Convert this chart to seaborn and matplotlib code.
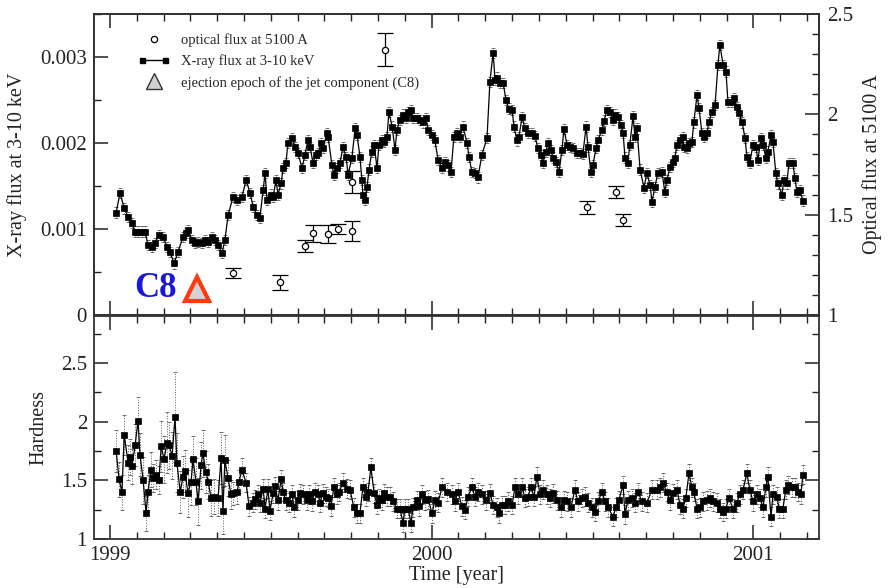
import numpy as np
import matplotlib
matplotlib.use("Agg")
import matplotlib.pyplot as plt
import seaborn as sns
from matplotlib.lines import Line2D
from matplotlib.legend_handler import HandlerLine2D
from matplotlib.ticker import MultipleLocator, FuncFormatter

# ---------------- data ----------------
# X-ray flux at 3-10 keV (units of 1e-3)
xray_time = [
    1999.019, 1999.031, 1999.044, 1999.056, 1999.068, 1999.078, 1999.087, 1999.099, 1999.109, 1999.118,
    1999.131, 1999.140, 1999.152, 1999.165, 1999.177, 1999.187, 1999.199, 1999.211, 1999.227, 1999.236,
    1999.242, 1999.255, 1999.264, 1999.274, 1999.286, 1999.295, 1999.305, 1999.317, 1999.326, 1999.336,
    1999.348, 1999.357, 1999.367, 1999.382, 1999.395, 1999.410, 1999.423, 1999.435, 1999.445, 1999.457,
    1999.466, 1999.476, 1999.482, 1999.488, 1999.500, 1999.507, 1999.516, 1999.522, 1999.532, 1999.538,
    1999.547, 1999.553,
    1999.566, 1999.575, 1999.584, 1999.597, 1999.606, 1999.615, 1999.622, 1999.631, 1999.640, 1999.647,
    1999.656, 1999.662, 1999.675, 1999.678, 1999.690, 1999.696, 1999.706, 1999.715, 1999.724, 1999.734,
    1999.740, 1999.752, 1999.762, 1999.768, 1999.777, 1999.783, 1999.786, 1999.793, 1999.799, 1999.805,
    1999.814, 1999.821, 1999.830, 1999.836, 1999.846, 1999.852, 1999.861, 1999.867, 1999.877, 1999.886,
    1999.892, 1999.901, 1999.911, 1999.920, 1999.926, 1999.936, 1999.942, 1999.954, 1999.964, 1999.973,
    1999.982, 1999.989, 2000.001, 2000.010, 2000.020, 2000.032, 2000.041, 2000.051,
    2000.060, 2000.069, 2000.079, 2000.088, 2000.097, 2000.110, 2000.116, 2000.125, 2000.135, 2000.144,
    2000.156, 2000.172, 2000.181, 2000.191, 2000.197, 2000.203, 2000.212, 2000.222, 2000.231, 2000.240,
    2000.250, 2000.256, 2000.265, 2000.271, 2000.281, 2000.290, 2000.299, 2000.312, 2000.321, 2000.330,
    2000.340, 2000.346, 2000.355, 2000.362, 2000.371, 2000.377, 2000.386, 2000.396, 2000.405, 2000.411,
    2000.421, 2000.430, 2000.439, 2000.452, 2000.461, 2000.470, 2000.480, 2000.486, 2000.495, 2000.501,
    2000.511, 2000.517, 2000.529, 2000.536, 2000.545, 2000.554, 2000.564, 2000.570, 2000.579, 2000.588,
    2000.595, 2000.601, 2000.610, 2000.616, 2000.626, 2000.632, 2000.638, 2000.648, 2000.660,
    2000.669, 2000.679, 2000.685, 2000.694, 2000.703, 2000.716, 2000.725, 2000.731, 2000.741, 2000.750,
    2000.756, 2000.763, 2000.772, 2000.781, 2000.784, 2000.794, 2000.800, 2000.809, 2000.815, 2000.825,
    2000.831, 2000.840, 2000.846, 2000.856, 2000.862, 2000.871, 2000.881, 2000.890, 2000.896, 2000.906,
    2000.915, 2000.921, 2000.934, 2000.940, 2000.949, 2000.955, 2000.965, 2000.974, 2000.980, 2000.989,
    2000.999, 2001.008, 2001.014, 2001.024, 2001.030, 2001.039, 2001.045, 2001.055, 2001.061, 2001.070,
    2001.076, 2001.089, 2001.095, 2001.104, 2001.111, 2001.123, 2001.129, 2001.136, 2001.145, 2001.154,
]
xray_flux_e3 = [
    1.19, 1.42, 1.24, 1.14, 1.07, 0.97, 0.97, 0.97, 0.97, 0.81,
    0.79, 0.84, 0.93, 0.91, 0.79, 0.73, 0.60, 0.73, 0.91, 0.95,
    0.99, 0.87, 0.84, 0.85, 0.84, 0.87, 0.85, 0.91, 0.87, 0.81,
    0.72, 0.87, 1.16, 1.37, 1.34, 1.37, 1.57, 1.42, 1.26, 1.16,
    1.13, 1.45, 1.65, 1.34, 1.40, 1.37, 1.57, 1.40, 1.53, 1.71,
    1.77, 2.00,
    2.06, 1.95, 1.88, 1.71, 1.86, 2.03, 1.95, 1.77, 1.86, 1.88,
    2.00, 1.94, 2.12, 2.07, 1.74, 1.63, 1.71, 1.77, 1.95, 1.84,
    1.63, 1.83, 2.17, 2.09, 1.84, 1.57, 1.40, 1.34, 1.49, 1.69,
    1.90, 1.98, 1.71, 1.98, 2.03, 2.01, 2.07, 2.36, 2.19, 1.92,
    2.15, 2.27, 2.33, 2.29, 2.36, 2.38, 2.29, 2.29, 2.27, 2.24,
    2.29, 2.15, 2.09, 2.03, 1.80, 1.71, 1.78, 1.74,
    1.66, 2.07, 2.12, 2.07, 2.19, 2.00, 1.84, 1.66, 1.65, 1.60,
    1.86, 2.06, 2.71, 3.05, 2.73, 2.76, 2.70, 2.70, 2.50, 2.40,
    2.38, 2.19, 2.03, 2.07, 2.30, 2.17, 2.12, 2.12, 2.08, 1.94,
    1.86, 1.77, 1.90, 2.00, 1.92, 1.83, 1.78, 1.66, 1.92, 2.16,
    1.98, 1.95, 1.94, 1.88, 1.88, 1.87, 2.19, 1.95, 1.66, 1.74,
    1.94, 2.03, 2.15, 2.26, 2.38, 2.36, 2.27, 2.33, 2.30, 2.21,
    2.12, 1.83, 1.77, 1.98, 2.31, 2.07, 2.17, 1.69, 1.48,
    1.65, 1.51, 1.31, 1.49, 1.65, 1.66, 1.43, 1.57, 1.72, 1.78,
    1.83, 1.98, 2.03, 2.07, 1.95, 1.94, 2.00, 2.01, 2.24, 2.56,
    2.41, 2.12, 2.07, 2.12, 2.24, 2.36, 2.44, 2.91, 3.14, 2.91,
    2.83, 2.48, 2.48, 2.52, 2.42, 2.35, 2.24, 2.06, 1.84, 1.77,
    1.98, 1.95, 1.80, 2.06, 1.98, 1.83, 1.90, 2.09, 2.01, 1.65,
    1.53, 1.40, 1.57, 1.53, 1.77, 1.77, 1.59, 1.43, 1.45, 1.33,
]
xray_err_e3 = 0.06

# optical flux at 5100 A
opt_time = [1999.382, 1999.528, 1999.606, 1999.631, 1999.678, 1999.709,
            1999.752, 1999.752, 1999.855, 2000.483, 2000.573, 2000.595]
opt_flux = [1.209, 1.164, 1.343, 1.408, 1.403, 1.428,
            1.418, 1.662, 2.323, 1.537, 1.612, 1.473]
opt_err = [0.027, 0.037, 0.030, 0.042, 0.045, 0.025,
           0.050, 0.055, 0.080, 0.033, 0.030, 0.028]

# ejection epoch of C8
c8_time = 1999.270
c8_level_e3 = 0.30

# hardness ratio
hard_time = [
    1999.019, 1999.028, 1999.037, 1999.044, 1999.056, 1999.062, 1999.068, 1999.078, 1999.087, 1999.093,
    1999.103, 1999.112, 1999.118, 1999.127, 1999.134, 1999.143, 1999.152, 1999.159, 1999.168, 1999.177,
    1999.183, 1999.193, 1999.202, 1999.208, 1999.218, 1999.227, 1999.233, 1999.242, 1999.252, 1999.258,
    1999.267, 1999.274, 1999.283, 1999.289, 1999.298, 1999.305, 1999.314, 1999.323, 1999.336, 1999.345,
    1999.351, 1999.357, 1999.367, 1999.376, 1999.382, 1999.395, 1999.401, 1999.410, 1999.423, 1999.432,
    1999.445, 1999.451, 1999.460, 1999.466, 1999.476, 1999.482, 1999.491, 1999.497, 1999.507, 1999.513,
    1999.522, 1999.532, 1999.538, 1999.547, 1999.556, 1999.566, 1999.572, 1999.584, 1999.591, 1999.600,
    1999.612, 1999.619, 1999.628, 1999.637, 1999.647, 1999.653, 1999.662, 1999.671, 1999.678, 1999.687,
    1999.696, 1999.706, 1999.712, 1999.724, 1999.737, 1999.746, 1999.758, 1999.768, 1999.777, 1999.786,
    1999.796, 1999.802, 1999.811, 1999.821, 1999.830, 1999.836, 1999.846, 1999.852, 1999.861, 1999.870,
    1999.880, 1999.892, 1999.901, 1999.911, 1999.917, 1999.926, 1999.936, 1999.942, 1999.954, 1999.961,
    1999.970, 1999.979, 1999.989, 2000.001, 2000.010, 2000.020, 2000.032, 2000.048, 2000.063, 2000.072,
    2000.082, 2000.094, 2000.104, 2000.113, 2000.125, 2000.135, 2000.144, 2000.156, 2000.169, 2000.181,
    2000.191, 2000.203, 2000.209, 2000.219, 2000.228, 2000.237, 2000.250, 2000.259, 2000.268, 2000.281,
    2000.290, 2000.299, 2000.309, 2000.318, 2000.327, 2000.337, 2000.346, 2000.358, 2000.368, 2000.377,
    2000.390, 2000.402, 2000.411, 2000.421, 2000.433, 2000.445, 2000.455, 2000.467, 2000.477, 2000.486,
    2000.498, 2000.508, 2000.517, 2000.529, 2000.539, 2000.548, 2000.564, 2000.573, 2000.582, 2000.595,
    2000.601, 2000.610, 2000.623, 2000.632, 2000.641, 2000.654, 2000.669, 2000.685, 2000.700, 2000.710,
    2000.719, 2000.731, 2000.741, 2000.750, 2000.763, 2000.772, 2000.781, 2000.790, 2000.800, 2000.809,
    2000.815, 2000.825, 2000.834, 2000.843, 2000.856, 2000.865, 2000.874, 2000.887, 2000.896, 2000.906,
    2000.915, 2000.924, 2000.937, 2000.949, 2000.958, 2000.968, 2000.980, 2000.989, 2000.999, 2001.011,
    2001.021, 2001.030, 2001.039, 2001.045, 2001.055, 2001.061, 2001.073, 2001.080, 2001.092, 2001.101,
    2001.108, 2001.120, 2001.129, 2001.139, 2001.148, 2001.154,
]
hardness = [
    1.75, 1.51, 1.40, 1.89, 1.65, 1.70, 1.62, 1.80, 2.01, 1.72,
    1.50, 1.22, 1.40, 1.59, 1.52, 1.55, 1.50, 1.79, 1.68, 1.82,
    1.80, 1.71, 2.04, 1.65, 1.40, 1.53, 1.58, 1.39, 1.49, 1.68,
    1.49, 1.32, 1.63, 1.73, 1.57, 1.49, 1.35, 1.36, 1.35, 1.69,
    1.24, 1.67, 1.52, 1.38, 1.39, 1.40, 1.49, 1.59, 1.48, 1.28,
    1.31, 1.34, 1.38, 1.31, 1.43, 1.26, 1.43, 1.24, 1.39, 1.45,
    1.33, 1.51, 1.40, 1.33, 1.31, 1.38, 1.27, 1.33, 1.39, 1.38,
    1.33, 1.38, 1.32, 1.40, 1.38, 1.31, 1.39, 1.36, 1.35, 1.28,
    1.44, 1.38, 1.40, 1.48, 1.43, 1.42, 1.27, 1.22, 1.22, 1.44,
    1.36, 1.40, 1.61, 1.39, 1.29, 1.35, 1.33, 1.39, 1.36, 1.36,
    1.32, 1.26, 1.26, 1.14, 1.26, 1.26, 1.14, 1.27, 1.33, 1.28,
    1.38, 1.33, 1.34, 1.22, 1.33, 1.31, 1.44, 1.40, 1.38, 1.32,
    1.40, 1.28, 1.25, 1.36, 1.44, 1.36, 1.40, 1.38, 1.33, 1.39,
    1.29, 1.27, 1.22, 1.29, 1.29, 1.32, 1.29, 1.44, 1.38, 1.44,
    1.35, 1.36, 1.44, 1.36, 1.53, 1.38, 1.42, 1.38, 1.35, 1.39,
    1.33, 1.27, 1.33, 1.32, 1.27, 1.42, 1.32, 1.35, 1.36, 1.31,
    1.27, 1.23, 1.32, 1.40, 1.32, 1.27, 1.19, 1.27, 1.33, 1.46,
    1.21, 1.33, 1.35, 1.31, 1.40, 1.32, 1.31, 1.42, 1.42, 1.44,
    1.48, 1.40, 1.33, 1.39, 1.42, 1.29, 1.26, 1.35, 1.56, 1.44,
    1.40, 1.26, 1.27, 1.32, 1.33, 1.35, 1.32, 1.31, 1.26, 1.23,
    1.26, 1.35, 1.26, 1.31, 1.38, 1.42, 1.56, 1.42, 1.32, 1.38,
    1.35, 1.27, 1.44, 1.53, 1.19, 1.38, 1.36, 1.26, 1.26, 1.42,
    1.46, 1.44, 1.44, 1.40, 1.38, 1.55,
]
hard_err_early = [
    0.18, 0.15, 0.15, 0.17, 0.15, 0.15, 0.15, 0.18, 0.20, 0.18,
    0.20, 0.15, 0.15, 0.15, 0.12, 0.12, 0.12, 0.22, 0.20, 0.26,
    0.20, 0.20, 0.38, 0.25, 0.18, 0.18, 0.18, 0.20, 0.20, 0.20,
    0.20, 0.20, 0.20, 0.20, 0.18, 0.15, 0.15, 0.15, 0.15, 0.22,
    0.20, 0.22, 0.15, 0.12, 0.10, 0.10, 0.10, 0.10,
]
hard_err_late = 0.08

legend_labels = ["optical flux at 5100 A", "X-ray flux at 3-10 keV",
                 "ejection epoch of the jet component (C8)"]

# ---------------- style ----------------
sns.set_theme(style="ticks")
plt.rcParams["font.family"] = ["Liberation Serif", "DejaVu Serif"]
plt.rcParams["axes.edgecolor"] = "#333333"
plt.rcParams["axes.linewidth"] = 1.3

fig = plt.figure(figsize=(8.89, 5.88), dpi=100)
ax = fig.add_axes([0.1057, 0.4643, 0.8155, 0.5119])
axh = fig.add_axes([0.1057, 0.0833, 0.8155, 0.3790], sharex=ax)
ax2 = ax.twinx()

xt = np.array(xray_time)
xf = np.array(xray_flux_e3) * 1e-3

# X-ray error bars (dotted)
eb = ax.errorbar(xt, xf, yerr=xray_err_e3 * 1e-3, fmt="none", ecolor="0.35",
                 elinewidth=0.7, capsize=1.6, capthick=0.6, zorder=1)
for c in eb[2]:
    c.set_linestyle(":")
sns.lineplot(x=xt, y=xf, ax=ax, color="black", linewidth=0.9, marker="s",
             markersize=3.8, markeredgecolor="black", markeredgewidth=0.5,
             estimator=None, sort=False, legend=False, zorder=3)

# optical points on right axis
ax2.errorbar(opt_time, opt_flux, yerr=opt_err, fmt="o", mfc="white", mec="black",
             ms=4.5, mew=0.9, ecolor="black", elinewidth=0.9, capsize=5.5,
             capthick=0.9, zorder=4)

# C8 marker and label
ax.plot([c8_time], [c8_level_e3 * 1e-3], marker="^", ms=17, mfc="#d4d4d4",
        mec="#ff3a12", mew=3.0, ls="none", zorder=5)
ax.text(1999.140, 0.31e-3, "C8", color="#1818d8", fontsize=25, fontweight="bold",
        ha="center", va="center", zorder=5)

# hardness
ht = np.array(hard_time)
hv = np.array(hardness)
herr = np.array(hard_err_early + [hard_err_late] * (len(hv) - len(hard_err_early)))
ebh = axh.errorbar(ht, hv, yerr=herr, fmt="none", ecolor="0.35", elinewidth=0.7,
                   capsize=1.6, capthick=0.6, zorder=1)
for c in ebh[2]:
    c.set_linestyle(":")
sns.lineplot(x=ht, y=hv, ax=axh, color="black", linewidth=0.9, marker="s",
             markersize=3.8, markeredgecolor="black", markeredgewidth=0.5,
             estimator=None, sort=False, legend=False, zorder=3)

# ---------------- axes ----------------
ax.set_xlim(1998.95, 2001.204)
ax.set_ylim(0, 0.0035)
ax2.set_ylim(1, 2.5)
axh.set_ylim(1, 2.9)

for a in (ax, axh):
    a.xaxis.set_major_locator(MultipleLocator(1))
    a.xaxis.set_minor_locator(MultipleLocator(1 / 12))
ax.yaxis.set_major_locator(MultipleLocator(0.001))
ax.yaxis.set_minor_locator(MultipleLocator(0.0005))
ax2.yaxis.set_major_locator(MultipleLocator(0.5))
ax2.yaxis.set_minor_locator(MultipleLocator(0.1))
axh.yaxis.set_major_locator(MultipleLocator(0.5))
axh.yaxis.set_minor_locator(MultipleLocator(0.25))

fmt = FuncFormatter(lambda v, p: f"{v:g}")
ax.yaxis.set_major_formatter(fmt)
ax2.yaxis.set_major_formatter(fmt)
axh.yaxis.set_major_formatter(fmt)
axh.xaxis.set_major_formatter(FuncFormatter(lambda v, p: f"{v:.0f}"))

tick_kw = dict(direction="in", colors="#222222", labelcolor="#222222", labelsize=15)
ax.tick_params(axis="x", which="both", top=True, bottom=True, labelbottom=False, **tick_kw)
ax.tick_params(axis="y", which="both", left=True, right=False, pad=5, **tick_kw)
ax2.tick_params(axis="y", which="both", right=True, left=False, pad=6, **tick_kw)
axh.tick_params(axis="x", which="both", top=True, bottom=True, pad=5, **tick_kw)
axh.tick_params(axis="y", which="both", left=True, right=True, pad=5, **tick_kw)
for a in (ax, ax2, axh):
    a.tick_params(which="major", length=10, width=1.1)
    a.tick_params(which="minor", length=5, width=1.0)

ax.set_xlabel("")
ax.set_ylabel("X-ray flux at 3-10 keV", fontsize=14.5, color="#222222")
ax.yaxis.set_label_coords(-0.092, 0.5)
ax2.set_ylabel("Optical flux at 5100 A", fontsize=14.5, color="#222222")
ax2.yaxis.set_label_coords(1.060, 0.5)
axh.set_ylabel("Hardness", fontsize=14.5, color="#222222")
axh.yaxis.set_label_coords(-0.063, 0.5)
axh.set_xlabel("Time [year]", fontsize=14.5, color="#222222")
axh.xaxis.set_label_coords(0.50, -0.122)

for a in (ax, ax2, axh):
    for s in a.spines.values():
        s.set_visible(True)
        s.set_color("#333333")
        s.set_linewidth(1.3)

# legend
h1 = Line2D([], [], ls="none", marker="o", mfc="white", mec="black", ms=4.5, mew=0.9)
h2 = Line2D([], [], color="black", lw=1.0, marker="s", ms=3.6)
h3 = Line2D([], [], ls="none", marker="^", mfc="#d0d0d0", mec="#333333", ms=11, mew=1.0)
ax.legend([h1, h2, h3], legend_labels,
          handler_map={h1: HandlerLine2D(numpoints=1), h2: HandlerLine2D(numpoints=2),
                       h3: HandlerLine2D(numpoints=1)},
          loc="upper left", bbox_to_anchor=(0.060, 0.935), frameon=False,
          fontsize=10.5, handlelength=2.2, handletextpad=0.8, labelspacing=0.5,
          borderpad=0, borderaxespad=0)

fig.savefig("out.png", dpi=100)
